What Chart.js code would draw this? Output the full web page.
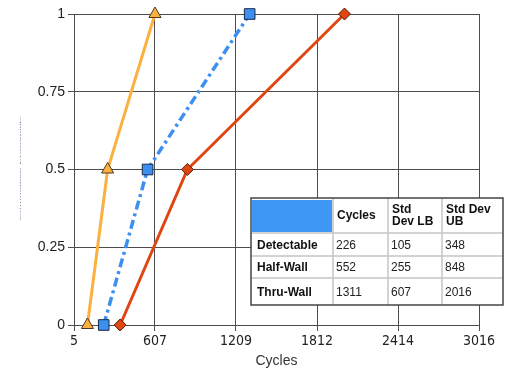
<!DOCTYPE html>
<html>
<head>
<meta charset="utf-8">
<script src="https://cdn.jsdelivr.net/npm/chart.js@4/dist/chart.umd.min.js"></script>
<style>
  html, body { margin: 0; padding: 0; background: #fff; }
  #wrap { width: 510px; height: 371px; }
</style>
</head>
<body>
<div id="wrap"><canvas id="c" width="510" height="371"></canvas></div>
<script>
// Crack growth levels and the cycle counts at which each is reached
const levels = ['Detectable', 'Half-Wall', 'Thru-Wall'];
const probability = [0, 0.5, 1];
const cycles = [226, 552, 1311];
const stdDevLB = [105, 255, 607];
const stdDevUB = [348, 848, 2016];

const xTicks = [5, 607, 1209, 1812, 2414, 3016];
const yTicks = [0, 0.25, 0.5, 0.75, 1];

const tableHeaders = ['', 'Cycles', 'Std\nDev LB', 'Std Dev\nUB'];
const xTitle = 'Cycles';
const yTitle = 'Cumulative Probability';

const toPoints = xs => xs.map((x, i) => ({ x: x, y: probability[i] }));

const gridColor = '#4d4d4d';
const xTickFont = { family: '"Liberation Sans Narrow", "DejaVu Sans Condensed", Arial, sans-serif', size: 14 };
const yTickFont = { family: '"Liberation Sans", Arial, sans-serif', size: 14 };
const titleFont = { family: '"Liberation Sans Narrow", "Liberation Sans", Arial, sans-serif', size: 14 };

// Summary table drawn in the lower right of the plot
const tablePlugin = {
  id: 'summaryTable',
  afterDraw(chart) {
    const ctx = chart.ctx;
    const L = 251, T = 198, R = 503, B = 305;
    const cols = [L, 333, 388, 442, R];
    const rows = [T, 233, 256, 278, B];
    ctx.save();
    ctx.fillStyle = '#ffffff';
    ctx.fillRect(L, T, R - L, B - T);
    // header corner cell
    ctx.fillStyle = '#3d97f5';
    ctx.fillRect(cols[0] + 1, rows[0] + 2, cols[1] - cols[0] - 2, rows[1] - rows[0] - 3);
    // inner cell borders
    ctx.strokeStyle = '#c4c4c4';
    ctx.lineWidth = 1.5;
    for (let i = 1; i < cols.length - 1; i++) {
      ctx.beginPath(); ctx.moveTo(cols[i], T); ctx.lineTo(cols[i], B); ctx.stroke();
    }
    for (let j = 1; j < rows.length - 1; j++) {
      ctx.beginPath(); ctx.moveTo(L, rows[j]); ctx.lineTo(R, rows[j]); ctx.stroke();
    }
    // outer frame
    ctx.strokeStyle = '#444444';
    ctx.lineWidth = 1.5;
    ctx.strokeRect(L, T, R - L, B - T);

    ctx.textBaseline = 'middle';
    ctx.textAlign = 'left';
    // header texts
    ctx.fillStyle = '#111111';
    ctx.font = 'bold 12px "Liberation Sans", Arial, sans-serif';
    for (let c = 1; c < tableHeaders.length; c++) {
      const lines = tableHeaders[c].split('\n');
      const cy = (rows[0] + rows[1]) / 2;
      const lh = 12.5;
      lines.forEach((ln, k) => {
        ctx.fillText(ln, cols[c] + 4, cy + (k - (lines.length - 1) / 2) * lh);
      });
    }
    // body rows
    const colsData = [cycles, stdDevLB, stdDevUB];
    levels.forEach((lv, r) => {
      const cy = (rows[r + 1] + rows[r + 2]) / 2 + 1;
      ctx.font = 'bold 12px "Liberation Sans", Arial, sans-serif';
      ctx.fillStyle = '#111111';
      ctx.fillText(lv, cols[0] + 6, cy);
      ctx.font = '12px "Liberation Sans", Arial, sans-serif';
      ctx.fillStyle = '#222222';
      colsData.forEach((arr, c) => {
        ctx.fillText(String(arr[r]), cols[c + 1] + 3, cy);
      });
    });
    ctx.restore();
  }
};

// Narrow, faint vertical axis caption
const yTitlePlugin = {
  id: 'yCaption',
  afterDraw(chart) {
    const ctx = chart.ctx;
    ctx.save();
    ctx.translate(20.5, 168);
    ctx.rotate(-Math.PI / 2);
    ctx.font = '10px "Liberation Sans", Arial, sans-serif';
    const w = ctx.measureText(yTitle).width;
    ctx.scale(105 / w, 0.22);
    ctx.fillStyle = '#7082a0';
    ctx.textAlign = 'center';
    ctx.textBaseline = 'middle';
    ctx.fillText(yTitle, 0, 0);
    ctx.restore();
  }
};

new Chart(document.getElementById('c'), {
  type: 'line',
  data: {
    datasets: [
      {
        label: 'Std Dev LB',
        data: toPoints(stdDevLB),
        clip: false,
        borderColor: '#fbb040',
        backgroundColor: '#fbb040',
        borderWidth: 3,
        pointStyle: 'triangle',
        pointRadius: 7,
        pointBorderColor: '#4a3a20',
        pointBorderWidth: 1,
        pointBackgroundColor: '#fbb040'
      },
      {
        label: 'Cycles',
        data: toPoints(cycles),
        clip: false,
        borderColor: '#3d8ff0',
        backgroundColor: '#3d8ff0',
        borderWidth: 3.5,
        borderDash: [9, 4, 3, 4],
        pointStyle: 'rect',
        pointRadius: 7.5,
        pointBorderColor: '#1a2a48',
        pointBorderWidth: 1,
        pointBackgroundColor: '#3d8ff0'
      },
      {
        label: 'Std Dev UB',
        data: toPoints(stdDevUB),
        clip: false,
        borderColor: '#df4612',
        backgroundColor: '#df4612',
        borderWidth: 3,
        pointStyle: 'rectRot',
        pointRadius: 6,
        pointBorderColor: '#52200e',
        pointBorderWidth: 1,
        pointBackgroundColor: '#df4612'
      }
    ]
  },
  options: {
    responsive: false,
    animation: false,
    events: [],
    layout: { padding: { top: 14, right: 31, left: 0, bottom: 0 } },
    plugins: { legend: { display: false }, tooltip: { enabled: false } },
    scales: {
      x: {
        type: 'linear',
        min: xTicks[0],
        max: xTicks[xTicks.length - 1],
        afterBuildTicks: s => { s.ticks = xTicks.map(v => ({ value: v })); },
        afterFit: s => { s.height = 46; },
        grid: { color: gridColor, lineWidth: 1, tickLength: 6, tickColor: gridColor },
        border: { color: gridColor, width: 1 },
        ticks: { color: '#222', font: xTickFont, padding: 2, maxRotation: 0, callback: v => String(v) },
        title: { display: true, text: xTitle, color: '#333', font: titleFont, padding: { top: 0, bottom: 1 } }
      },
      y: {
        min: 0,
        max: 1,
        afterBuildTicks: s => { s.ticks = yTicks.map(v => ({ value: v })); },
        afterFit: s => { s.width = 74; },
        grid: { color: gridColor, lineWidth: 1, tickLength: 6, tickColor: gridColor },
        border: { color: gridColor, width: 1 },
        ticks: { color: '#222', font: yTickFont, padding: 3, callback: v => String(v) }
      }
    }
  },
  plugins: [tablePlugin, yTitlePlugin]
});
</script>
</body>
</html>
